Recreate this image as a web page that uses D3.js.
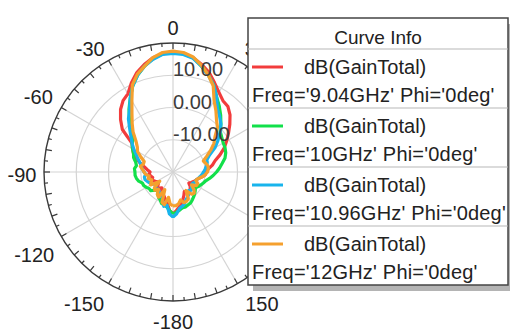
<!DOCTYPE html>
<html>
<head>
<meta charset="utf-8">
<script src="https://cdn.jsdelivr.net/npm/d3@7"></script>
<style>
  body { margin: 0; background: #fff; }
  text { font-family: "Liberation Sans", Arial, sans-serif; }
</style>
</head>
<body>
<div id="chart"></div>
<script>
// theta in degrees, -180..180 step 5
var theta = d3.range(-180, 181, 5);

// gain values (dB), one per theta
var gain904 = [-7, -8, -10, -11, -12, -12.5, -13, -14, -13.5, -13, -14, -14.5, -14, -13.5, -13, -13.5, -13, -12.5, -12.9,
  -12, -11, -9.5, -8, -6.5, -5.5, -4.5, 0.5, 3, 5.3, 7, 8, 10.5, 12.8, 14.5, 16, 16.8,
  17,
  16.8, 16, 14.5, 12.8, 10.5, 8.5, 7, 6.5, 5, 3, 1, -0.8, -2.5, -4.5, -6.5, -7.6, -9, -10,
  -10, -11, -12, -12.5, -13, -13.5, -14, -13, -12.5, -12, -12.5, -13, -12, -11, -10, -9, -8, -7];
var gain10 = [-7, -8, -9, -9.5, -9.6, -10.5, -11, -12, -12.5, -12, -11, -11, -10.5, -10, -9.9, -9, -8.5, -8.2, -8.2,
  -8, -8.5, -8, -7, -6.5, -5.5, -4.5, -4, -2, 1, 3.8, 6.5, 9.5, 12, 14, 15.7, 16.8,
  17,
  16.8, 16, 14, 12, 9.8, 7, 5, 3, 1, -0.8, -1.5, -2, -2.2, -2.6, -3.3, -4.5, -5.5, -6.5,
  -7.5, -8.5, -9.5, -10, -10.5, -11, -11.5, -11, -10.5, -10, -9.5, -9, -8.8, -8.5, -8.5, -8, -7.5, -7];
var gain1096 = [-6, -7, -9.5, -9, -10.5, -12, -11.5, -12.5, -13, -12.5, -13, -13.5, -12.5, -12, -11.5, -11, -11, -11.5, -11,
  -10.5, -10, -9.5, -8.5, -7.5, -6, -4.5, -3, -1, 1.5, 3.5, 6.5, 9.5, 12, 14, 15.5, 16.6,
  16.8,
  16.6, 15.8, 14, 12, 9.8, 7, 4, 2.5, 1, -1, -3, -5, -7.5, -8.8, -9, -9.5, -10, -10.5,
  -11, -11.5, -12, -12.5, -12.5, -13, -13, -12.5, -12, -12.5, -11.5, -11, -10.5, -9.5, -9, -8.5, -7, -6];
var gain12 = [-9.5, -10, -12, -9.5, -10, -14, -11, -11.5, -13, -12, -12.5, -15, -12, -12.5, -13, -12, -12.5, -11.5, -11,
  -10.5, -9.7, -10.5, -10.5, -9, -7.3, -6.5, -5, -2.5, -0.3, 2.2, 5.5, 9.8, 12.3, 14, 16, 17.2,
  17.5,
  17.2, 16.2, 14.2, 12, 9.5, 5.5, 3.2, 1, -0.5, -3, -4.5, -6.5, -8.5, -10, -9.5, -9, -9, -9.3,
  -10, -11, -12, -12.5, -11.5, -11.6, -13, -11.5, -10.7, -11, -13, -10.5, -10, -9.9, -11, -10, -9.5, -9.5];

var seriesNames = ["dB(GainTotal)", "dB(GainTotal)", "dB(GainTotal)", "dB(GainTotal)"];
var seriesFreqs = ["Freq='9.04GHz' Phi='0deg'", "Freq='10GHz' Phi='0deg'",
  "Freq='10.96GHz' Phi='0deg'", "Freq='12GHz' Phi='0deg'"];
var seriesColors = ["#f23c3c", "#12e04a", "#18b4ec", "#f5a02e"];
var seriesValues = [gain904, gain10, gain1096, gain12];

var ringTicks = [-10, 0, 10, 20];
var ringLabels = ["-10.00", "0.00", "10.00"];
// 60, 90 and 120 sit fully under the legend box, so only these show
var angleLabels = [0, 30, 150, -180, -150, -120, -90, -60, -30];

var width = 510, height = 332;
var cx = 173, cy = 172, radius = 129;

var svg = d3.select("#chart")
  .append("svg")
  .attr("width", width)
  .attr("height", height);

var g = svg.append("g")
  .attr("transform", "translate(" + cx + "," + cy + ")");

var r = d3.scaleLinear().domain([-20, 20]).range([0, radius]);
var rad = function (deg) { return deg * Math.PI / 180; };

// grid rings
g.selectAll(".ring")
  .data(ringTicks.slice(0, 3))
  .enter()
  .append("circle")
  .attr("r", function (d) { return r(d); })
  .attr("fill", "none")
  .attr("stroke", "#d4d4d4")
  .attr("stroke-width", 1.2);

// spokes every 30 deg
g.selectAll(".spoke")
  .data(d3.range(0, 360, 30))
  .enter()
  .append("line")
  .attr("x1", 0).attr("y1", 0)
  .attr("x2", function (d) { return radius * Math.sin(rad(d)); })
  .attr("y2", function (d) { return -radius * Math.cos(rad(d)); })
  .attr("stroke", "#d4d4d4")
  .attr("stroke-width", 1.2);

// outer circle + ticks
g.append("circle")
  .attr("r", radius)
  .attr("fill", "none")
  .attr("stroke", "#3a3a3a")
  .attr("stroke-width", 1.4);

g.selectAll(".tick")
  .data(d3.range(0, 360, 5))
  .enter()
  .append("line")
  .attr("x1", function (d) { return radius * Math.sin(rad(d)); })
  .attr("y1", function (d) { return -radius * Math.cos(rad(d)); })
  .attr("x2", function (d) { var l = d % 10 === 0 ? 6 : 3.5; return (radius - l) * Math.sin(rad(d)); })
  .attr("y2", function (d) { var l = d % 10 === 0 ? 6 : 3.5; return -(radius - l) * Math.cos(rad(d)); })
  .attr("stroke", "#3a3a3a")
  .attr("stroke-width", 1.2);

// curves
var line = d3.lineRadial()
  .angle(function (d) { return rad(d[0]); })
  .radius(function (d) { return r(d[1]); });

seriesValues.forEach(function (vals, i) {
  g.append("path")
    .datum(theta.map(function (t, j) { return [t, vals[j]]; }))
    .attr("d", line)
    .attr("fill", "none")
    .attr("stroke", seriesColors[i])
    .attr("stroke-width", 3.2)
    .attr("stroke-linejoin", "round");
});

// ring labels along the 0 deg spoke
g.selectAll(".ringLabel")
  .data(ringLabels)
  .enter()
  .append("text")
  .attr("x", 0)
  .attr("y", function (d) { return -r(+d) + 1; })
  .style("font-size", "20px")
  .attr("fill", "#3c3c3c")
  .text(function (d) { return d; });

// angle labels: placement radius / angle tuned to sit like the original
function labelPos(d) {
  var a = Math.abs(d);
  var lr = { 0: 144, 30: 148, 60: 154, 90: 151, 120: 162, 150: 159, 180: 150 }[a];
  var la = { 0: 0, 30: 34, 60: 61, 90: 91, 120: 121, 150: 146, 180: 180 }[a] * (d < 0 ? -1 : 1);
  return [lr * Math.sin(rad(la)), -lr * Math.cos(rad(la))];
}

g.selectAll(".angleLabel")
  .data(angleLabels)
  .enter()
  .append("text")
  .attr("x", function (d) { return labelPos(d)[0]; })
  .attr("y", function (d) { return labelPos(d)[1] + 7; })
  .attr("text-anchor", "middle")
  .style("font-size", "20px")
  .attr("fill", "#222")
  .text(function (d) { return d; });

// legend
var lx = 248, ly = 18, lw = 260, lh = 267, rowTop = 49, rowH = 59;
var legend = svg.append("g");

legend.append("rect")
  .attr("x", lx + 5).attr("y", ly + 6)
  .attr("width", lw).attr("height", lh)
  .attr("fill", "#b4b4b4");

legend.append("rect")
  .attr("x", lx).attr("y", ly)
  .attr("width", lw).attr("height", lh)
  .attr("fill", "#fff")
  .attr("stroke", "#444")
  .attr("stroke-width", 1.5);

legend.append("text")
  .attr("x", lx + lw / 2)
  .attr("y", 44)
  .attr("text-anchor", "middle")
  .style("font-size", "19px")
  .attr("fill", "#222")
  .text("Curve Info");

seriesFreqs.forEach(function (f, i) {
  var top = rowTop + i * rowH;
  legend.append("line")
    .attr("x1", lx).attr("x2", lx + lw)
    .attr("y1", top).attr("y2", top)
    .attr("stroke", "#b8b8b8")
    .attr("stroke-width", 1.2);
  legend.append("line")
    .attr("x1", 252).attr("x2", 283)
    .attr("y1", top + 18).attr("y2", top + 18)
    .attr("stroke", seriesColors[i])
    .attr("stroke-width", 3);
  legend.append("text")
    .attr("x", 304).attr("y", top + 25)
    .style("font-size", "20px")
    .attr("fill", "#222")
    .text(seriesNames[i]);
  legend.append("text")
    .attr("x", 252).attr("y", top + 53)
    .style("font-size", "20px")
    .style("letter-spacing", "0.2px")
    .attr("fill", "#222")
    .text(f);
});
</script>
</body>
</html>
